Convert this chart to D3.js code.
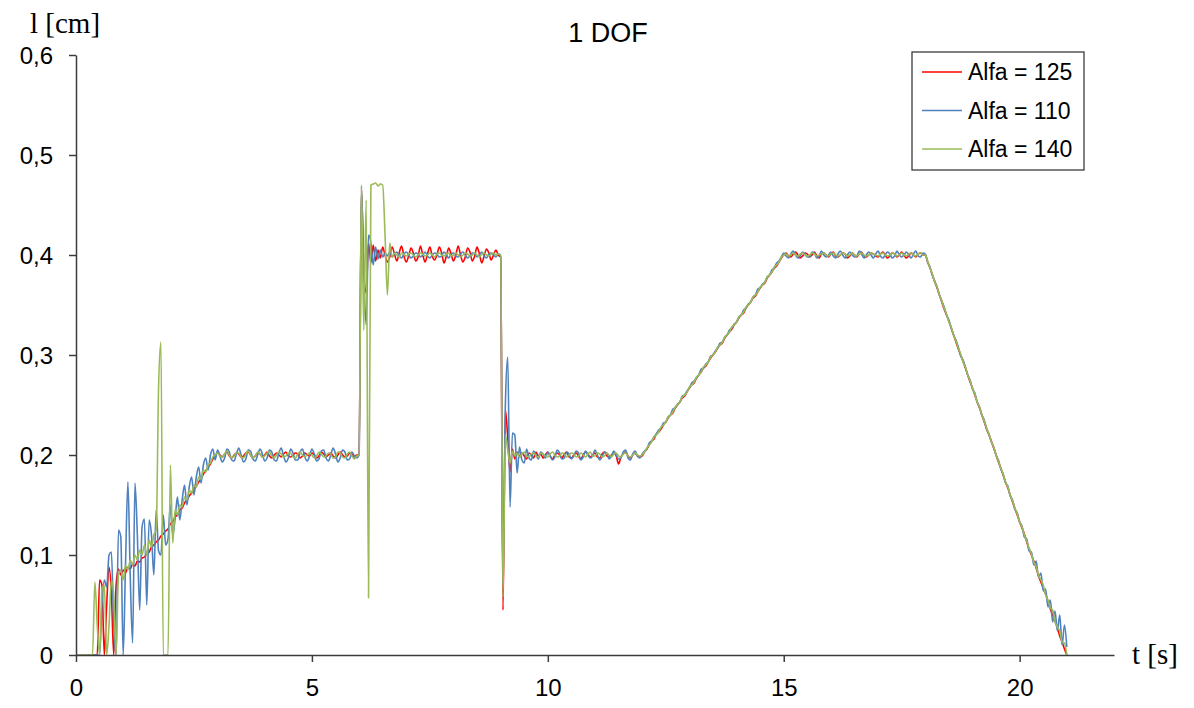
<!DOCTYPE html>
<html>
<head>
<meta charset="utf-8">
<title>1 DOF</title>
<script src="https://cdn.jsdelivr.net/npm/d3@7/dist/d3.min.js"></script>
<style>
  html, body { margin: 0; padding: 0; background: #ffffff; }
  svg { display: block; }
</style>
</head>
<body>
<svg id="chart" width="1194" height="708"></svg>
<script>
// Displacement samples, one every 0.05 s from t = 0 to t = 21 s,
// stored in thousandths of a centimetre.
const sampleStep = 0.05;

const alfa125 = [
  0,0,0,0,0,0,0,0,0,0,75,70,0,50,88,62,0,70,86,80,
  85,82,88,86,91,89,94,93,97,98,101,103,108,110,113,115,119,121,124,126,
  131,133,138,140,145,147,152,155,159,162,166,169,173,176,181,184,188,191,196,199,
  203,200,198,201,203,199,197,200,202,201,198,199,202,203,200,197,199,202,201,198,
  200,203,199,197,200,202,200,198,201,203,199,198,200,202,201,197,199,202,200,199,
  202,200,197,199,203,201,198,200,202,199,197,200,203,200,198,199,202,201,198,200,
  200,465,385,362,412,392,410,394,405,397,408,400,393,398,408,401,394,402,409,399,
  393,399,407,402,394,398,409,400,393,401,408,399,395,400,408,402,392,399,407,401,
  394,400,409,400,393,398,407,403,394,399,408,401,392,399,406,402,395,400,405,400,
  398,45,245,218,183,206,196,203,198,202,199,196,202,200,197,203,199,201,197,200,
  203,199,196,200,202,200,197,201,203,198,197,200,202,199,196,200,203,201,198,200,
  202,198,197,201,203,199,198,200,202,199,191,198,201,203,199,197,200,202,199,198,
  199,203,206,210,214,216,221,223,226,230,233,237,240,242,247,250,253,257,259,263,
  267,270,272,277,280,283,287,289,293,297,300,303,307,310,312,317,320,323,326,330,
  333,337,340,342,347,350,353,357,359,363,367,370,372,377,380,383,387,389,393,397,
  400,402,399,398,401,403,400,397,399,402,401,398,400,403,399,397,401,402,400,398,
  401,403,399,398,400,402,401,397,399,402,400,398,401,403,399,398,400,402,401,399,
  398,401,403,400,397,399,402,401,398,400,403,400,397,399,402,400,398,401,402,400,
  400,393,387,380,373,367,360,353,346,340,334,327,320,313,306,300,294,287,280,273,
  267,260,253,247,240,233,226,220,214,207,200,193,187,180,173,167,160,153,146,140,
  133,127,121,113,106,100,94,87,79,73,67,61,54,46,40,34,27,19,13,6,
  0
];

const alfa110 = [
  0,0,0,0,0,0,0,0,0,0,0,50,75,68,100,103,30,0,125,118,
  0,92,173,78,12,172,120,45,128,136,50,135,120,80,145,104,100,140,110,116,
  150,120,136,158,135,155,170,150,168,178,160,178,188,172,190,197,185,200,206,195,
  205,199,193,197,206,203,195,194,201,207,200,193,196,205,204,196,194,200,206,201,
  194,197,205,203,195,194,202,207,199,193,197,206,202,195,195,203,206,198,194,199,
  206,201,194,196,204,205,197,194,200,207,201,193,197,205,203,195,196,203,199,197,
  200,468,380,330,420,412,390,408,396,405,398,402,399,403,398,401,403,399,397,401,
  403,400,397,399,402,401,398,400,403,399,397,400,402,401,398,399,403,400,397,401,
  402,399,398,401,403,400,397,399,402,401,398,400,403,399,397,401,402,400,398,401,
  400,70,250,298,148,222,220,182,208,195,192,206,197,195,204,200,196,203,201,197,
  203,199,195,198,205,202,196,197,203,201,196,199,204,202,195,198,204,200,197,199,
  205,200,195,198,203,202,196,199,204,200,196,197,203,205,197,195,201,204,199,197,
  201,204,206,212,214,218,221,225,227,232,233,238,240,246,247,251,253,259,260,264,
  267,272,274,277,280,286,287,291,293,299,300,304,307,312,313,318,320,325,327,331,
  333,338,340,345,347,351,353,358,360,366,367,371,373,378,380,385,387,392,394,398,
  402,399,397,401,404,400,397,399,403,401,398,398,403,402,397,399,404,400,398,400,
  403,399,397,401,404,400,397,400,403,400,398,399,404,401,397,400,403,400,397,401,
  404,399,397,400,403,401,397,399,404,400,398,400,403,400,397,401,404,399,398,402,
  401,393,388,380,374,368,360,354,348,340,335,327,320,315,308,299,295,288,280,275,
  266,262,253,248,240,235,226,221,213,208,200,195,186,181,172,169,159,155,146,142,
  133,129,118,116,104,103,90,94,78,82,64,66,48,55,33,44,24,40,10,30,
  8
];

const alfa140 = [
  0,0,0,0,0,0,0,0,73,30,0,65,70,0,30,75,60,0,80,85,
  75,90,85,95,90,100,95,105,100,110,100,115,108,120,125,268,313,0,0,0,
  190,112,145,140,150,148,158,155,165,162,170,168,178,176,185,183,190,192,198,200,
  202,199,198,201,204,200,197,199,202,202,198,197,201,204,200,197,199,203,201,198,
  199,202,203,199,197,200,203,201,198,199,202,202,198,197,201,203,200,198,200,202,
  200,197,199,203,201,198,199,202,201,197,198,203,202,198,197,201,203,199,196,199,
  200,470,325,455,57,470,471,472,469,471,470,420,360,412,398,402,400,398,402,401,
  399,401,402,400,398,400,402,401,399,400,402,400,398,401,402,400,399,401,402,399,
  400,402,400,398,400,402,401,399,400,402,400,398,401,402,400,399,401,402,400,401,
  400,58,220,205,192,204,199,202,198,201,203,199,198,201,202,199,198,202,201,199,
  198,201,203,200,198,199,202,201,198,200,202,201,198,199,202,200,198,201,203,199,
  199,202,201,198,199,202,200,198,201,202,199,198,201,202,199,198,200,202,200,199,
  200,203,207,210,213,218,220,223,228,230,233,238,240,243,248,250,253,258,260,263,
  268,270,273,278,280,283,288,290,293,298,300,303,308,310,313,318,320,323,328,330,
  333,338,340,343,348,350,353,358,360,363,368,370,373,378,380,383,388,390,393,398,
  400,401,399,400,402,400,399,401,402,400,399,400,402,401,399,400,401,402,400,399,
  401,402,400,399,400,402,401,399,400,402,400,399,401,402,400,399,400,402,401,400,
  399,401,402,400,399,400,402,401,399,400,402,400,399,401,402,400,399,401,402,400,
  400,394,387,381,373,368,360,354,347,341,333,328,320,314,307,301,293,288,280,274,
  267,261,253,248,240,234,227,221,213,208,200,194,187,181,173,168,160,154,147,141,
  133,128,120,114,107,101,93,88,80,75,70,60,55,47,45,33,28,24,13,12,
  0
];

const seriesNames  = ["Alfa = 125", "Alfa = 110", "Alfa = 140"];
const seriesColors = ["#ff0000", "#4f81bd", "#9bbb59"];
const seriesValues = [alfa125, alfa110, alfa140];

const xTickValues = [0, 5, 10, 15, 20];
const yTickValues = [0, 0.1, 0.2, 0.3, 0.4, 0.5, 0.6];
const yTickLabels = ["0", "0,1", "0,2", "0,3", "0,4", "0,5", "0,6"];

const svg = d3.select("#chart");

const x = d3.scaleLinear().domain([0, 22]).range([76, 1114]);
const y = d3.scaleLinear().domain([0, 0.6]).range([655, 55]);

const axisColor = "#3c3c3c";
const sans = "'Liberation Sans', Arial, sans-serif";
const serif = "'Liberation Serif', 'Times New Roman', serif";

// series lines
const time = alfa125.map((_, i) => i * sampleStep);
const line = d3.line()
  .x((d, i) => x(time[i]))
  .y(d => y(d / 1000))
  .curve(d3.curveMonotoneX);

svg.append("g")
  .selectAll("path")
  .data(seriesValues)
  .join("path")
  .attr("fill", "none")
  .attr("stroke", (d, i) => seriesColors[i])
  .attr("stroke-width", 1.6)
  .attr("stroke-linejoin", "round")
  .attr("d", line);

// x axis
const xAxis = svg.append("g")
  .attr("transform", `translate(0,${y(0)})`)
  .call(d3.axisBottom(x).tickValues(xTickValues).tickSize(7).tickSizeOuter(0).tickPadding(17));
// y axis
const yAxis = svg.append("g")
  .attr("transform", `translate(${x(0)},0)`)
  .call(d3.axisLeft(y).tickValues(yTickValues).tickSize(7).tickSizeOuter(0).tickPadding(16)
    .tickFormat((d, i) => yTickLabels[i]));

[xAxis, yAxis].forEach(g => {
  g.select(".domain").attr("stroke", axisColor).attr("stroke-width", 1.5);
  g.selectAll(".tick line").attr("stroke", axisColor).attr("stroke-width", 1.5);
  g.selectAll(".tick text").attr("fill", "#000").style("font-size", "24px").style("font-family", sans);
});
yAxis.selectAll(".tick text").attr("dy", "0.35em");

// title and axis names
svg.append("text")
  .attr("x", 608).attr("y", 42)
  .attr("text-anchor", "middle")
  .style("font-family", sans).style("font-size", "27px")
  .text("1 DOF");

svg.append("text")
  .attr("x", 30).attr("y", 33)
  .style("font-family", serif).style("font-size", "29px")
  .text("l [cm]");

svg.append("text")
  .attr("x", 1132).attr("y", 664)
  .style("font-family", serif).style("font-size", "29px")
  .text("t [s]");

// legend
const legend = svg.append("g");
legend.append("rect")
  .attr("x", 912).attr("y", 52).attr("width", 172).attr("height", 118)
  .attr("fill", "#fff").attr("stroke", axisColor).attr("stroke-width", 1.3);

const rows = legend.selectAll("g.row")
  .data(seriesNames)
  .join("g")
  .attr("class", "row")
  .attr("transform", (d, i) => `translate(0,${72 + i * 38.5})`);
rows.append("line")
  .attr("x1", 922).attr("x2", 962)
  .attr("stroke", (d, i) => seriesColors[i])
  .attr("stroke-width", 1.6);
rows.append("text")
  .attr("x", 968).attr("y", 8)
  .style("font-family", sans).style("font-size", "23px")
  .text(d => d);
</script>
</body>
</html>
